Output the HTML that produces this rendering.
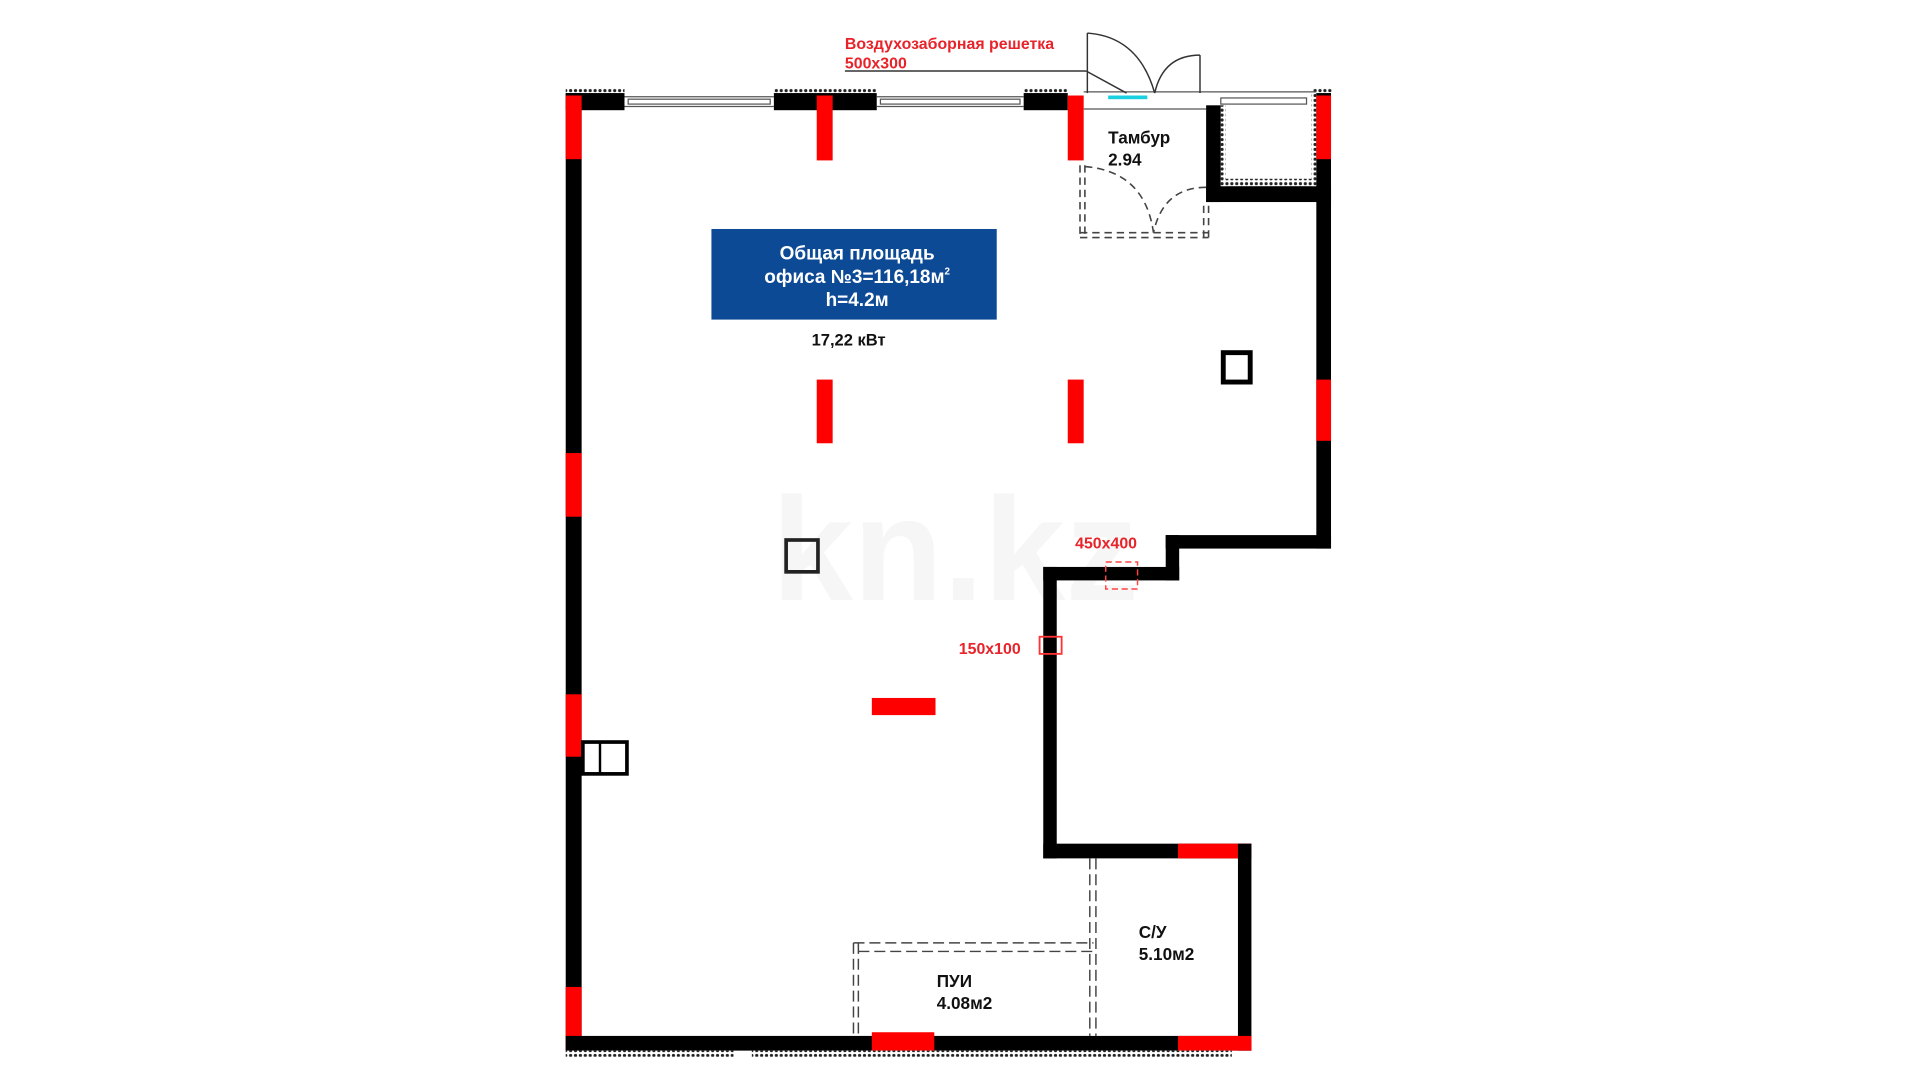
<!DOCTYPE html>
<html><head><meta charset="utf-8"><style>
html,body{margin:0;padding:0;background:#fff;}
svg{display:block}
text{font-family:"Liberation Sans","DejaVu Sans",sans-serif;font-weight:bold}
</style></head><body>
<svg width="1920" height="1080" viewBox="0 0 1568 882" preserveAspectRatio="none" xmlns="http://www.w3.org/2000/svg">
<defs>
<pattern id="h" width="4" height="4" patternUnits="userSpaceOnUse"><rect width="4" height="4" fill="#fff"/><circle cx="2" cy="2" r="1.3" fill="#222"/></pattern>
</defs>
<rect width="1568" height="882" fill="#fff"/>
<!-- watermark -->
<text x="780" y="490" font-size="120" fill="#f6f6f6" text-anchor="middle">kn.kz</text>
<!-- top hatch strips -->
<rect x="462" y="72" width="48" height="5" fill="url(#h)"/>
<rect x="632" y="72" width="84" height="5" fill="url(#h)"/>
<rect x="836" y="72" width="36" height="5" fill="url(#h)"/>
<rect x="1072" y="72" width="16" height="5" fill="url(#h)"/>
<!-- top wall black blocks -->
<rect x="462" y="76" width="48" height="14" fill="#000"/>
<rect x="632" y="76" width="84" height="14" fill="#000"/>
<rect x="836" y="76" width="36" height="14" fill="#000"/>
<!-- windows -->
<g stroke="#555" stroke-width="1" fill="none">
<line x1="510" y1="79" x2="632" y2="79"/><line x1="510" y1="87" x2="632" y2="87"/>
<rect x="513" y="81" width="116" height="4"/>
<line x1="716" y1="79" x2="836" y2="79"/><line x1="716" y1="87" x2="836" y2="87"/>
<rect x="719" y="81" width="114" height="4"/>
<line x1="885" y1="75" x2="1075" y2="75"/><line x1="885" y1="89" x2="985" y2="89"/>
<rect x="997" y="80" width="70" height="5"/>
</g>
<rect x="905" y="78" width="32" height="3" fill="#19d0e0"/>
<!-- doors outside -->
<g stroke="#333" stroke-width="1.2" fill="none">
<line x1="888" y1="27" x2="888" y2="76"/>
<path d="M888 27 Q930 30 943 76"/>
<line x1="980" y1="45" x2="980" y2="76"/>
<path d="M980 45 Q950 45 943 76"/>
<line x1="690" y1="58" x2="887" y2="58"/>
<line x1="887" y1="58" x2="920" y2="76"/>
</g>
<!-- left wall -->
<rect x="462" y="76" width="13" height="782" fill="#000"/>
<rect x="462" y="78" width="13" height="52" fill="#f00"/>
<rect x="462" y="370" width="13" height="52" fill="#f00"/>
<rect x="462" y="567" width="13" height="51" fill="#f00"/>
<rect x="462" y="806" width="13" height="52" fill="#f00"/>
<!-- top red columns -->
<rect x="667" y="78" width="13" height="53" fill="#f00"/>
<rect x="872" y="78" width="13" height="53" fill="#f00"/>
<!-- right upper box -->
<rect x="985" y="86" width="12" height="79" fill="#000"/>
<rect x="985" y="152" width="102" height="13" fill="#000"/>
<rect x="997" y="86" width="4" height="66" fill="url(#h)"/>
<rect x="997" y="146" width="78" height="6" fill="url(#h)"/>
<rect x="1071" y="76" width="4" height="76" fill="url(#h)"/>
<rect x="1075" y="76" width="12" height="372" fill="#000"/>
<rect x="1075" y="78" width="12" height="52" fill="#f00"/>
<rect x="1075" y="310" width="12" height="50" fill="#f00"/>
<!-- step walls -->
<rect x="952" y="437" width="135" height="11" fill="#000"/>
<rect x="952" y="437" width="11" height="37" fill="#000"/>
<rect x="852" y="463" width="111" height="11" fill="#000"/>
<rect x="852" y="463" width="11" height="238" fill="#000"/>
<rect x="852" y="689" width="170" height="12" fill="#000"/>
<rect x="962" y="689" width="60" height="12" fill="#f00"/>
<rect x="1011" y="689" width="11" height="169" fill="#000"/>
<!-- bottom wall -->
<rect x="462" y="846" width="560" height="12" fill="#000"/>
<rect x="712" y="843" width="51" height="15" fill="#f00"/>
<rect x="962" y="846" width="60" height="12" fill="#f00"/>
<rect x="462" y="858" width="137" height="5" fill="url(#h)"/>
<rect x="614" y="858" width="392" height="5" fill="url(#h)"/>
<!-- interior columns -->
<rect x="667" y="310" width="13" height="52" fill="#f00"/>
<rect x="872" y="310" width="13" height="52" fill="#f00"/>
<rect x="712" y="570" width="52" height="14" fill="#f00"/>
<!-- shafts -->
<rect x="999" y="288" width="22" height="24" fill="none" stroke="#000" stroke-width="4"/>
<rect x="642" y="441" width="26" height="26" fill="none" stroke="#222" stroke-width="3"/>
<rect x="476" y="606" width="36" height="26" fill="none" stroke="#000" stroke-width="3"/>
<line x1="490" y1="606" x2="490" y2="632" stroke="#000" stroke-width="2"/>
<!-- tambur dashed -->
<g stroke="#444" stroke-width="1.3" fill="none" stroke-dasharray="6 4">
<line x1="882" y1="135" x2="882" y2="193"/><line x1="886" y1="135" x2="886" y2="193"/>
<line x1="882" y1="190" x2="987" y2="190"/><line x1="882" y1="194" x2="987" y2="194"/>
<line x1="983" y1="168" x2="983" y2="194"/><line x1="987" y1="168" x2="987" y2="194"/>
<path d="M886 136 Q935 140 942 190"/>
<path d="M985 153 Q950 153 942 190"/>
</g>
<!-- PUI / SU dashed -->
<g stroke="#444" stroke-width="1.2" fill="none" stroke-dasharray="9 4">
<line x1="697" y1="770" x2="697" y2="846"/><line x1="701" y1="770" x2="701" y2="846"/>
<line x1="697" y1="770" x2="893" y2="770"/><line x1="701" y1="777" x2="893" y2="777"/>
<line x1="890" y1="701" x2="890" y2="846"/><line x1="895" y1="701" x2="895" y2="846"/>
</g>
<!-- red dashed vents -->
<rect x="903" y="459" width="26" height="22" fill="none" stroke="#f44" stroke-width="1.2" stroke-dasharray="5 3"/>
<rect x="849" y="520" width="18" height="14" fill="none" stroke="#f33" stroke-width="1.5"/>
<!-- blue box -->
<rect x="581" y="187" width="233" height="74" fill="#0c4a96"/>
<text x="700" y="212" font-size="15.5" fill="#fff" text-anchor="middle">Общая площадь</text>
<text x="700" y="231" font-size="15.5" fill="#fff" text-anchor="middle">офиса №3=116,18м<tspan font-size="8" dy="-7">2</tspan></text>
<text x="700" y="250" font-size="15.5" fill="#fff" text-anchor="middle">h=4.2м</text>
<text x="693" y="282" font-size="13.5" fill="#111" text-anchor="middle">17,22 кВт</text>
<!-- labels -->
<text x="690" y="40" font-size="13" fill="#e8232a">Воздухозаборная решетка</text>
<text x="690" y="56" font-size="13" fill="#e8232a">500х300</text>
<text x="905" y="117" font-size="14" fill="#111">Тамбур</text>
<text x="905" y="135" font-size="14" fill="#111">2.94</text>
<text x="878" y="448" font-size="13" fill="#e8232a">450х400</text>
<text x="783" y="534" font-size="13" fill="#e8232a">150х100</text>
<text x="765" y="806" font-size="14" fill="#111">ПУИ</text>
<text x="765" y="824" font-size="14" fill="#111">4.08м2</text>
<text x="930" y="766" font-size="14" fill="#111">С/У</text>
<text x="930" y="784" font-size="14" fill="#111">5.10м2</text>
</svg>
</body></html>
